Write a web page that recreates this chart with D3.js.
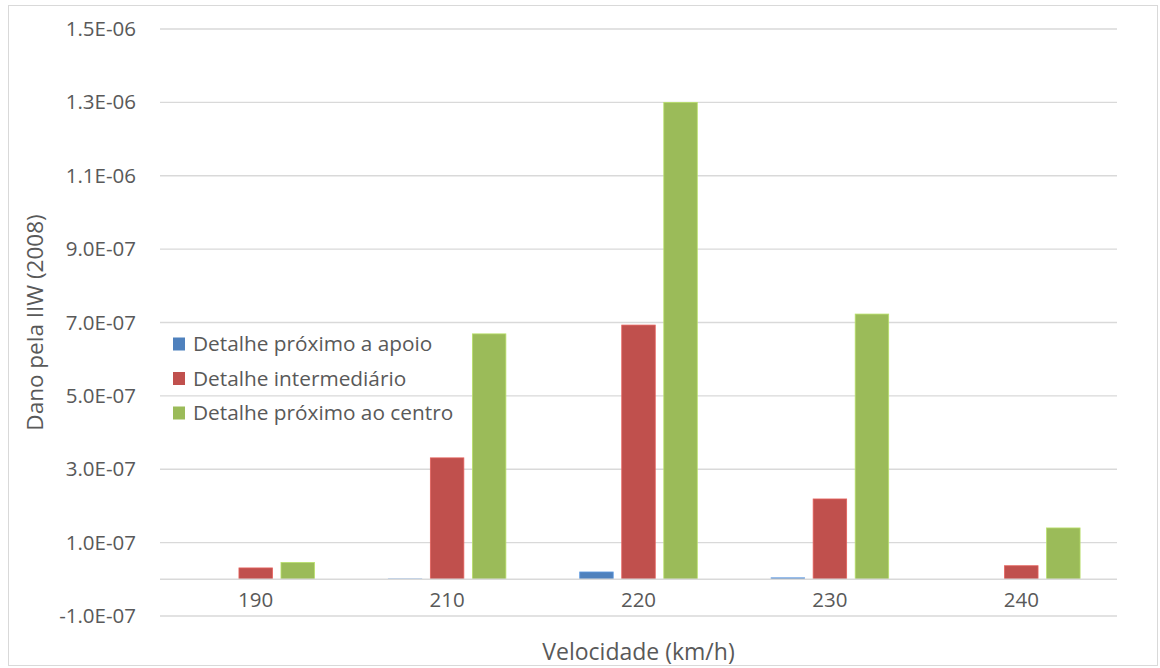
<!DOCTYPE html>
<html>
<head>
<meta charset="utf-8">
<script src="https://cdn.jsdelivr.net/npm/d3@7"></script>
<style>
  html, body { margin: 0; padding: 0; background: #fff; }
  svg { display: block; }
  text { font-family: "Open Sans", "Liberation Sans", sans-serif; fill: #595959; }
</style>
</head>
<body>
<svg id="chart" width="1160" height="668"></svg>
<script>
// Velocities (km/h) on the category axis
const categories = ["190", "210", "220", "230", "240"];

// Fatigue damage per detail (IIW 2008)
const seriesNames = ["Detalhe próximo a apoio", "Detalhe intermediário", "Detalhe próximo ao centro"];
const apoio = [0, 1e-9, 2.0e-8, 4e-9, 0];
const intermediario = [3.1e-8, 3.31e-7, 6.93e-7, 2.19e-7, 3.7e-8];
const centro = [4.6e-8, 6.69e-7, 1.30e-6, 7.23e-7, 1.40e-7];
const colors = ["#4F81BD", "#C0504D", "#9BBB59"];

// Y axis ticks and their labels
const yTicks = [-1e-7, 1e-7, 3e-7, 5e-7, 7e-7, 9e-7, 1.1e-6, 1.3e-6, 1.5e-6];
const yTickLabels = ["-1.0E-07", "1.0E-07", "3.0E-07", "5.0E-07", "7.0E-07", "9.0E-07", "1.1E-06", "1.3E-06", "1.5E-06"];

const values = [apoio, intermediario, centro];

const svg = d3.select("#chart");
const W = 1160, H = 668;
const plot = { left: 160, right: 1117, top: 29, bottom: 616 };
const font = '"Open Sans", "Liberation Sans", sans-serif';

// Chart frame
svg.append("rect")
  .attr("x", 8.5).attr("y", 5.5).attr("width", W - 11).attr("height", H - 8)
  .attr("fill", "#fff").attr("stroke", "#D9D9D9").attr("stroke-width", 1);

const x = d3.scaleBand().domain(categories).range([plot.left, plot.right]).paddingInner(0).paddingOuter(0);
const y = d3.scaleLinear().domain([-1e-7, 1.5e-6]).range([plot.bottom, plot.top]);

// Gridlines
svg.append("g").selectAll("line").data(yTicks).join("line")
  .attr("x1", plot.left).attr("x2", plot.right)
  .attr("y1", d => y(d)).attr("y2", d => y(d))
  .attr("stroke", "#D9D9D9").attr("stroke-width", 1.3);

// Y tick labels
const yAxis = d3.axisLeft(y).tickValues(yTicks)
  .tickFormat((d, i) => yTickLabels[i]).tickSize(0).tickPadding(24);
const gy = svg.append("g").attr("transform", `translate(${plot.left},0)`).call(yAxis);
gy.select(".domain").remove();
gy.selectAll("text").style("font-size", "20.5px").attr("fill", "#595959")
  .style("font-family", font);

// Bars
const bw = x.bandwidth() * 0.175;
const step = bw * 1.255;
const groups = svg.append("g");
values.forEach((vals, s) => {
  groups.append("g").selectAll("rect").data(vals).join("rect")
    .attr("x", (d, i) => x(categories[i]) + x.bandwidth() / 2 + (s - 1) * step - bw / 2)
    .attr("width", bw)
    .attr("y", d => Math.min(y(d), y(0)))
    .attr("height", d => Math.abs(y(0) - y(d)))
    .attr("fill", colors[s])
    .attr("stroke", d3.color(colors[s]).brighter(0.5))
    .attr("stroke-width", 0.8);
});

// Category axis line at zero
svg.append("line")
  .attr("x1", plot.left).attr("x2", plot.right)
  .attr("y1", y(0)).attr("y2", y(0))
  .attr("stroke", "#D9D9D9").attr("stroke-width", 1.5);

// Category labels
const xAxis = d3.axisBottom(x).tickSize(0).tickPadding(13);
const gx = svg.append("g").attr("transform", `translate(0,${y(0)})`).call(xAxis);
gx.select(".domain").remove();
gx.selectAll("text").style("font-size", "20.5px").attr("fill", "#595959")
  .style("font-family", font);

// Axis titles
svg.append("text")
  .attr("x", (plot.left + plot.right) / 2).attr("y", 660)
  .attr("text-anchor", "middle").style("font-size", "23px")
  .text("Velocidade (km/h)");
svg.append("text")
  .attr("transform", `translate(43,${(plot.top + plot.bottom) / 2}) rotate(-90)`)
  .attr("text-anchor", "middle").style("font-size", "22.5px")
  .text("Dano pela IIW (2008)");

// Legend
const legend = svg.append("g").attr("transform", "translate(173,344)");
seriesNames.forEach((name, i) => {
  const g = legend.append("g").attr("transform", `translate(0,${i * 34.5})`);
  g.append("rect").attr("x", 0).attr("y", -6.5).attr("width", 12).attr("height", 13).attr("fill", colors[i]);
  g.append("text").attr("x", 20).attr("y", 0).attr("dy", "0.35em")
    .style("font-size", "20.8px").text(name);
});
</script>
</body>
</html>
